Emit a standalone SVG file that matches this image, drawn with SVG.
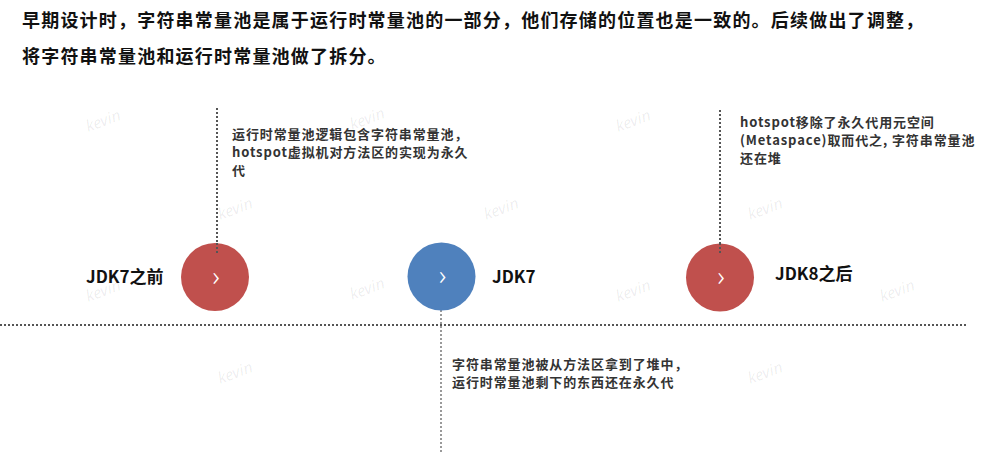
<svg xmlns="http://www.w3.org/2000/svg" width="983" height="452" viewBox="0 0 983 452">
<style>
text{font-family:"Noto Sans CJK SC","Noto Sans",sans-serif;font-weight:700}
.title{font-size:18px;fill:#111;letter-spacing:1.2px}
.desc{font-size:13px;fill:#333;letter-spacing:0.9px}
.label{font-size:17px;fill:#111}
.chev{font-size:27px;fill:#fff;font-weight:300;text-anchor:middle;font-family:"Noto Sans","DejaVu Sans",sans-serif}
.wm{font-size:16px;fill:#000;fill-opacity:0.07;font-style:italic;font-weight:400;font-family:"Noto Sans","DejaVu Sans",sans-serif}
.red{fill:#C0504D}
.blue{fill:#4F81BD}
.dot{stroke:#555;stroke-width:2;stroke-dasharray:2 2;fill:none}
.dotl{stroke:#999;stroke-width:2;stroke-dasharray:2 2;fill:none}
</style>
<rect width="983" height="452" fill="#fff"/>
<g id="watermarks">
<text class="wm" transform="translate(88,132) rotate(-20)">kevin</text>
<text class="wm" transform="translate(352,130) rotate(-20)">kevin</text>
<text class="wm" transform="translate(618,132) rotate(-20)">kevin</text>
<text class="wm" transform="translate(220,220) rotate(-20)">kevin</text>
<text class="wm" transform="translate(486,220) rotate(-20)">kevin</text>
<text class="wm" transform="translate(750,220) rotate(-20)">kevin</text>
<text class="wm" transform="translate(88,302) rotate(-20)">kevin</text>
<text class="wm" transform="translate(352,300) rotate(-20)">kevin</text>
<text class="wm" transform="translate(618,302) rotate(-20)">kevin</text>
<text class="wm" transform="translate(882,302) rotate(-20)">kevin</text>
<text class="wm" transform="translate(220,384) rotate(-20)">kevin</text>
<text class="wm" transform="translate(750,384) rotate(-20)">kevin</text>
</g>
<g id="title">
<text class="title" x="22" y="27">早期设计时，字符串常量池是属于运行时常量池的一部分，他们存储的位置也是一致的。后续做出了调整，</text>
<text class="title" x="22" y="63">将字符串常量池和运行时常量池做了拆分。</text>
</g>
<g id="connectors">
<line class="dot" x1="0" y1="325" x2="968" y2="325"/>
<line class="dot" x1="217" y1="108" x2="217" y2="255"/>
<line class="dot" x1="720" y1="110" x2="720" y2="255"/>
<line class="dotl" x1="441" y1="310" x2="441" y2="452"/>
</g>
<g id="node-jdk7-before">
<circle class="red" cx="215" cy="277" r="34"/>
<line class="dot" x1="217" y1="243" x2="217" y2="255"/>
<text class="chev" x="216" y="285.5">›</text>
<text class="label" x="86" y="283">JDK7之前</text>
<text class="desc" x="232" y="139">运行时常量池逻辑包含字符串常量池，</text>
<text class="desc" x="232" y="157">hotspot虚拟机对方法区的实现为永久</text>
<text class="desc" x="232" y="175">代</text>
</g>
<g id="node-jdk7">
<circle class="blue" cx="441.5" cy="276.5" r="34"/>
<text class="chev" x="442.5" y="285">›</text>
<text class="label" x="492" y="283">JDK7</text>
<text class="desc" x="452" y="369">字符串常量池被从方法区拿到了堆中，</text>
<text class="desc" x="452" y="387">运行时常量池剩下的东西还在永久代</text>
</g>
<g id="node-jdk8-after">
<circle class="red" cx="720" cy="277.5" r="34"/>
<line class="dot" x1="720" y1="243" x2="720" y2="255"/>
<text class="chev" x="721" y="286">›</text>
<text class="label" x="775" y="280">JDK8之后</text>
<text class="desc" x="740" y="127">hotspot移除了永久代用元空间</text>
<text class="desc" x="740" y="145">(Metaspace)取而代之, 字符串常量池</text>
<text class="desc" x="740" y="163">还在堆</text>
</g>
</svg>
